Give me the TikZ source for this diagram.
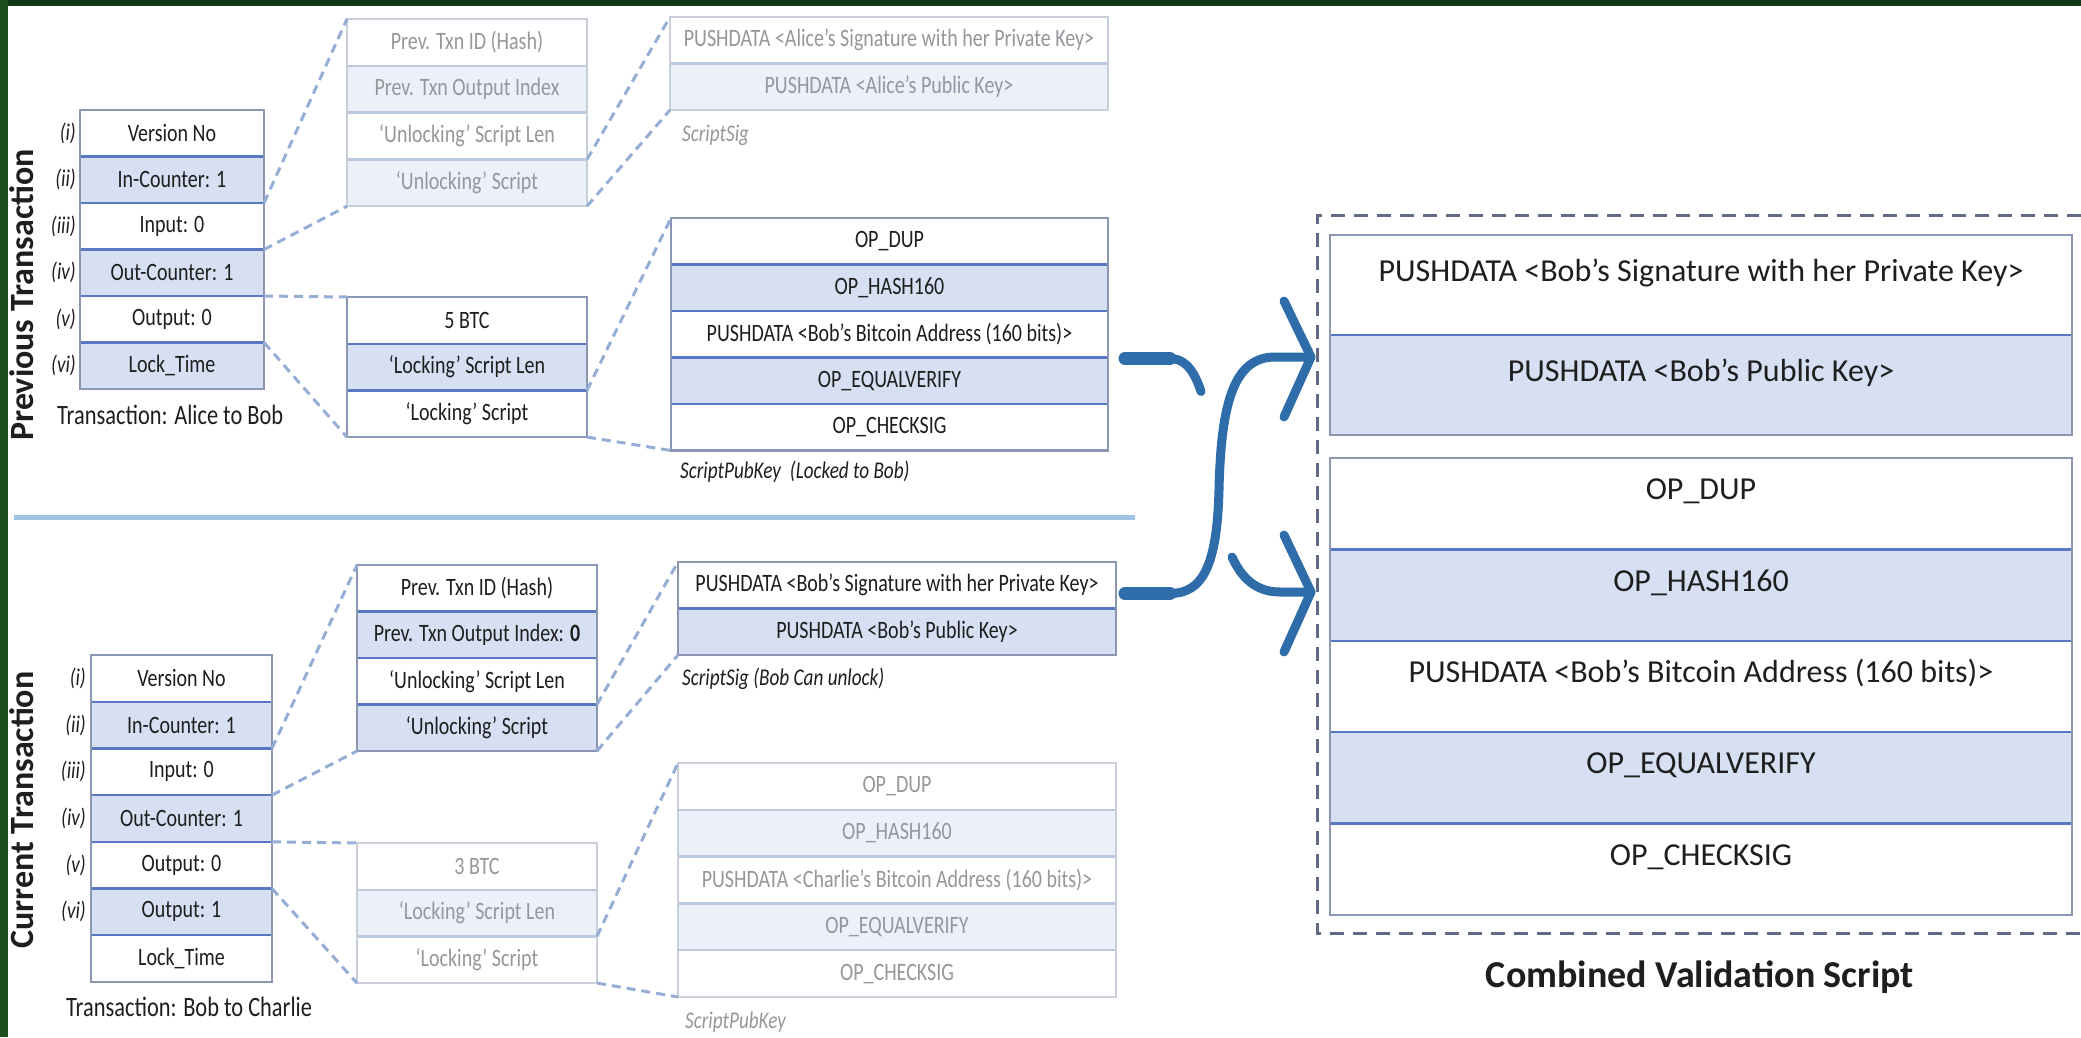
\documentclass[tikz,border=0pt]{standalone}
\usepackage{fontspec}
\setmainfont{Carlito}
\newfontfamily\condfont[FakeStretch=0.8]{Carlito}
\usetikzlibrary{calc}

\definecolor{ink}{RGB}{30,30,30}
\definecolor{cellblue}{RGB}{214,224,242}
\definecolor{sepblue}{RGB}{88,120,196}
\definecolor{edgegray}{RGB}{138,150,178}
\definecolor{fadeblue}{RGB}{236,241,249}
\definecolor{fadesep}{RGB}{188,200,224}
\definecolor{fadeedge}{RGB}{200,206,218}
\definecolor{fadeink}{RGB}{150,150,156}
\definecolor{linkblue}{RGB}{150,174,214}
\definecolor{flowblue}{RGB}{46,108,170}
\definecolor{framegray}{RGB}{96,106,132}
\definecolor{rulelight}{RGB}{160,196,228}
\definecolor{bandtop}{RGB}{14,58,20}
\definecolor{bandleft}{RGB}{28,78,32}

\tikzset{
  cellbase/.style={rectangle, anchor=north west, inner sep=0pt, outer sep=0pt, line width=2.4pt},
  solidcell/.style={cellbase, draw=sepblue, text=ink, font=\condfont\fontsize{25pt}{30pt}\selectfont},
  fadedcell/.style={cellbase, draw=fadesep, text=fadeink, font=\condfont\fontsize{25pt}{30pt}\selectfont},
  bigcell/.style={cellbase, draw=sepblue, text=ink, font=\fontsize{32pt}{38pt}\selectfont, text height=22pt, text depth=30pt},
  solidedge/.style={draw=edgegray, line width=2.4pt},
  fadededge/.style={draw=fadeedge, line width=2.4pt},
  zoomline/.style={draw=linkblue, line width=3pt, dash pattern=on 9pt off 6pt},
  flow/.style={draw=flowblue, line width=9pt, line cap=round, line join=round},
  flowstart/.style={flow, line width=13pt},
  tag/.style={anchor=east, inner sep=0pt, text=ink, font=\condfont\itshape\fontsize{24pt}{28pt}\selectfont},
  caption/.style={anchor=base west, inner sep=0pt, text=ink, font=\condfont\fontsize{28pt}{32pt}\selectfont},
  note/.style={anchor=base west, inner sep=0pt, text=ink, font=\condfont\itshape\fontsize{24pt}{28pt}\selectfont},
  sidetitle/.style={rotate=90, inner sep=0pt, text=ink, font=\bfseries\fontsize{34pt}{40pt}\selectfont},
  divider/.style={draw=rulelight, line width=5pt},
  scriptframe/.style={draw=framegray, line width=3pt, dash pattern=on 14pt off 9pt},
}

% a vertical stack of equal rows: prefix, style, left, top, width, row height, text/fill list
\newcommand\cellstack[7]{%
  \foreach \txt/\fc [count=\k] in {#7}{%
    \node[#2, fill=\fc, minimum width=#5pt, minimum height=#6pt] (#1\k) at (#3,{#4+#6*(\k-1)}) {\txt};}%
}

\begin{document}
\begin{tikzpicture}[x=1pt,y=-1pt]
\useasboundingbox (0,0) rectangle (2081,1037);
\fill[white] (0,0) rectangle (2081,1037);
\fill[bandtop] (0,0) rectangle (2081,6);
\fill[bandleft] (0,0) rectangle (8,1037);

% ---------------- previous transaction ----------------
\cellstack{pm}{solidcell}{80}{110}{184}{46.5}{Version No/white, In-Counter: 1/cellblue, Input: 0/white, Out-Counter: 1/cellblue, Output: 0/white, Lock\_Time/cellblue}
\cellstack{pi}{fadedcell}{347}{19}{240}{46.8}{Prev. Txn ID (Hash)/white, Prev. Txn Output Index/fadeblue, ‘Unlocking’ Script Len/white, ‘Unlocking’ Script/fadeblue}
\cellstack{po}{solidcell}{347}{297}{240}{46.7}{5 BTC/white, ‘Locking’ Script Len/cellblue, ‘Locking’ Script/white}
\cellstack{ps}{fadedcell}{670}{17}{438}{46.5}{PUSHDATA <Alice’s Signature with her Private Key>/white, PUSHDATA <Alice’s Public Key>/fadeblue}
\cellstack{pk}{solidcell}{671}{218}{437}{46.5}{OP\_DUP/white, OP\_HASH160/cellblue, PUSHDATA <Bob’s Bitcoin Address (160 bits)>/white, OP\_EQUALVERIFY/cellblue, OP\_CHECKSIG/white}

\draw[solidedge] (pm1.north west) rectangle (pm6.south east);
\draw[fadededge] (pi1.north west) rectangle (pi4.south east);
\draw[solidedge] (po1.north west) rectangle (po3.south east);
\draw[fadededge] (ps1.north west) rectangle (ps2.south east);
\draw[solidedge] (pk1.north west) rectangle (pk5.south east);

\draw[zoomline] (pm3.north east) -- (pi1.north west);
\draw[zoomline] (pm3.south east) -- (pi4.south west);
\draw[zoomline] (pm5.north east) -- (po1.north west);
\draw[zoomline] (pm5.south east) -- (po3.south west);
\draw[zoomline] (pi4.north east) -- (ps1.north west);
\draw[zoomline] (pi4.south east) -- (ps2.south west);
\draw[zoomline] (po3.north east) -- (pk1.north west);
\draw[zoomline] (po3.south east) -- (pk5.south west);

\node[sidetitle] (prevside) at (22,295) {Previous Transaction};
\node[caption] (prevcap) at (57,424) {Transaction: Alice to Bob};
\node[note, text=fadeink] (pscap) at (682,141) {ScriptSig};
\node[note] (pkcap) at (680,478) {ScriptPubKey\hspace{9pt}(Locked to Bob)};

% ---------------- current transaction ----------------
\cellstack{cm}{solidcell}{91}{655}{181}{46.7}{Version No/white, In-Counter: 1/cellblue, Input: 0/white, Out-Counter: 1/cellblue, Output: 0/white, Output: 1/cellblue, Lock\_Time/white}
\cellstack{ci}{solidcell}{357}{565}{240}{46.5}{Prev. Txn ID (Hash)/white, Prev. Txn Output Index: \textbf{0}/cellblue, ‘Unlocking’ Script Len/white, ‘Unlocking’ Script/cellblue}
\cellstack{co}{fadedcell}{357}{843}{240}{46.7}{3 BTC/white, ‘Locking’ Script Len/fadeblue, ‘Locking’ Script/white}
\cellstack{cs}{solidcell}{678}{562}{438}{46.5}{PUSHDATA <Bob’s Signature with her Private Key>/white, PUSHDATA <Bob’s Public Key>/cellblue}
\cellstack{ck}{fadedcell}{678}{763}{438}{46.8}{OP\_DUP/white, OP\_HASH160/fadeblue, PUSHDATA <Charlie’s Bitcoin Address (160 bits)>/white, OP\_EQUALVERIFY/fadeblue, OP\_CHECKSIG/white}

\draw[solidedge] (cm1.north west) rectangle (cm7.south east);
\draw[solidedge] (ci1.north west) rectangle (ci4.south east);
\draw[fadededge] (co1.north west) rectangle (co3.south east);
\draw[solidedge] (cs1.north west) rectangle (cs2.south east);
\draw[fadededge] (ck1.north west) rectangle (ck5.south east);

\draw[zoomline] (cm3.north east) -- (ci1.north west);
\draw[zoomline] (cm3.south east) -- (ci4.south west);
\draw[zoomline] (cm5.north east) -- (co1.north west);
\draw[zoomline] (cm5.south east) -- (co3.south west);
\draw[zoomline] (ci4.north east) -- (cs1.north west);
\draw[zoomline] (ci4.south east) -- (cs2.south west);
\draw[zoomline] (co3.north east) -- (ck1.north west);
\draw[zoomline] (co3.south east) -- (ck5.south west);

\node[sidetitle] (curside) at (22,810) {Current Transaction};
\node[caption] (curcap) at (66,1016) {Transaction: Bob to Charlie};
\node[note] (cscap) at (682,685) {ScriptSig (Bob Can unlock)};
\node[note, text=fadeink] (ckcap) at (685,1028) {ScriptPubKey};

% row numbering beside both transactions
\foreach \t [count=\k] in {(i),(ii),(iii),(iv),(v),(vi)}{%
  \node[tag] (ptag\k) at ($(pm\k.west)+(-4,0)$) {\t};
  \node[tag] (ctag\k) at ($(cm\k.west)+(-5,0)$) {\t};
}

% separator between the two transactions
\coordinate (ruleL) at (14,517);
\coordinate (ruleR) at (1135,517);
\draw[divider] (ruleL) -- (ruleR);

% ---------------- combined validation script ----------------
\draw[scriptframe] (2081,215) -- (1317,215) -- (1317,933) -- (2081,933);
\cellstack{vt}{bigcell}{1330}{235}{742}{100}{PUSHDATA <Bob’s Signature with her Private Key>/white, PUSHDATA <Bob’s Public Key>/cellblue}
\cellstack{vb}{bigcell}{1330}{458}{742}{91.4}{OP\_DUP/white, OP\_HASH160/cellblue, PUSHDATA <Bob’s Bitcoin Address (160 bits)>/white, OP\_EQUALVERIFY/cellblue, OP\_CHECKSIG/white}
\draw[solidedge] (vt1.north west) rectangle (vt2.south east);
\draw[solidedge] (vb1.north west) rectangle (vb5.south east);
\node[anchor=base, inner sep=0pt, text=ink, font=\bfseries\fontsize{38pt}{44pt}\selectfont] (cvs) at (1700,987) {Combined Validation Script};

% crossing arrows into the combined script
\coordinate (tipTop) at (1311,357);
\coordinate (tipLow) at (1311,592);
\coordinate (dipA) at (1232,557);
\coordinate (startA) at ($(pk3.south east)+(17,1)$);
\coordinate (startB) at ($(cs1.south east)+(9,-15)$);
% locking script of the previous transaction -> lower part
\draw[flow] ($(startA)+(45,0)$) .. controls +(18,0) and +(-5,-15) .. ++(31,33);
\draw[flowstart] (startA) -- ++(45,0);
\draw[flow] (dipA) .. controls +(10,22) and +(-23,0) .. ($(tipLow)+(-31,0)$) -- (tipLow);
\draw[flow] ($(tipLow)+(-27,-57)$) -- (tipLow) -- ($(tipLow)+(-27,60)$);
% unlocking script of the current transaction -> upper part
\draw[flow] ($(startB)+(45,0)$) .. controls +(33,0) and +(-2,75) .. (1219,490) .. controls +(2,-90) and +(-40,0) .. ($(tipTop)+(-36,0)$) -- (tipTop);
\draw[flowstart] (startB) -- ++(45,0);
\draw[flow] ($(tipTop)+(-27,-56)$) -- (tipTop) -- ($(tipTop)+(-27,60)$);
\end{tikzpicture}
\end{document}
